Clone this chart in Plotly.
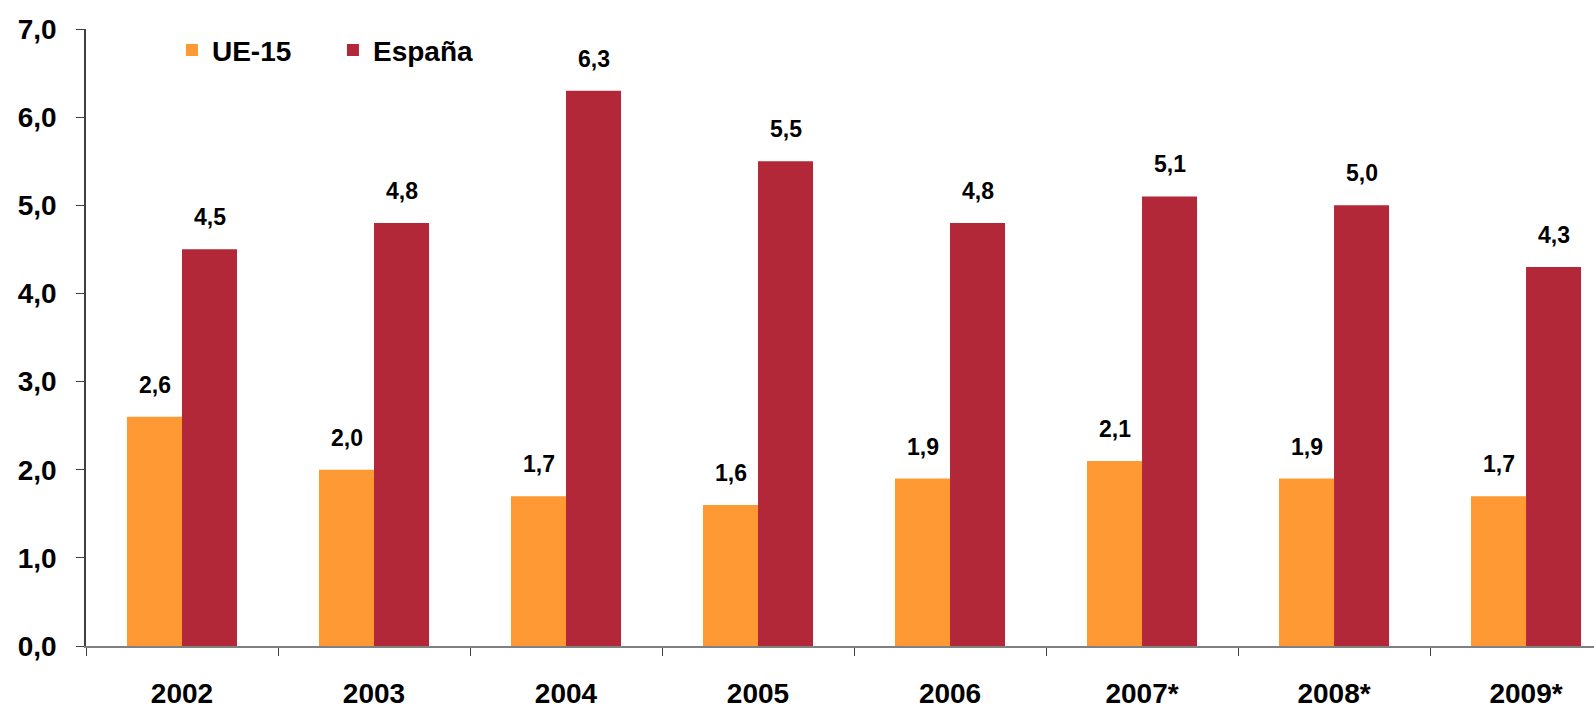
import plotly.graph_objects as go

years = ["2002", "2003", "2004", "2005", "2006", "2007*", "2008*", "2009*"]
ue15 = [2.6, 2.0, 1.7, 1.6, 1.9, 2.1, 1.9, 1.7]
espana = [4.5, 4.8, 6.3, 5.5, 4.8, 5.1, 5.0, 4.3]
series_names = ["UE-15", "España"]
colors = ["#FF9933", "#B32839"]

FONT = "Liberation Sans, Arial, sans-serif"

fig = go.Figure()
for name, vals, col in zip(series_names, [ue15, espana], colors):
    fig.add_trace(go.Bar(x=years, y=vals, name=name, marker_color=col,
                         marker_line_width=0))

# value labels above bars (category index positions, shifted to each bar of the group)
for shift, vals in zip([-27.5, 27.5], [ue15, espana]):
    for i, v in enumerate(vals):
        fig.add_annotation(x=i, y=v, xref="x", yref="y", xshift=shift, yshift=17,
                           text=f"{v:.1f}".replace(".", ","), showarrow=False,
                           yanchor="bottom",
                           font=dict(family=FONT, size=23, color="black", weight="bold"))

fig.update_layout(
    width=1594, height=710,
    margin=dict(l=86, r=0, t=29, b=64),
    paper_bgcolor="white", plot_bgcolor="white",
    barmode="group", bargap=0.427, bargroupgap=0,
    separators=",.",
    font=dict(family=FONT, color="black"),
    showlegend=True,
    legend=dict(orientation="h", x=0.057, y=1.006, xanchor="left", yanchor="top",
                font=dict(family=FONT, size=28, color="black", weight="bold"),
                entrywidth=116, bgcolor="rgba(0,0,0,0)"),
    xaxis=dict(type="category", range=[-0.5, 7.354], showgrid=False,
               showline=True, linecolor="#808080", linewidth=1.5,
               ticks="outside", ticklen=8, tickcolor="#404040", tickson="boundaries",
               ticklabelstandoff=22,
               tickfont=dict(family=FONT, size=28, color="black", weight="bold")),
    yaxis=dict(range=[0, 7], dtick=1, tickformat=".1f", showgrid=False,
               zeroline=False, showline=True, linecolor="#404040", linewidth=1.5,
               ticks="outside", ticklen=8, tickcolor="#404040",
               ticklabelstandoff=14,
               tickfont=dict(family=FONT, size=28, color="black", weight="bold")),
)

fig.write_html("out.html", config={"displayModeBar": False},
               post_script="document.body.style.margin='0';")
